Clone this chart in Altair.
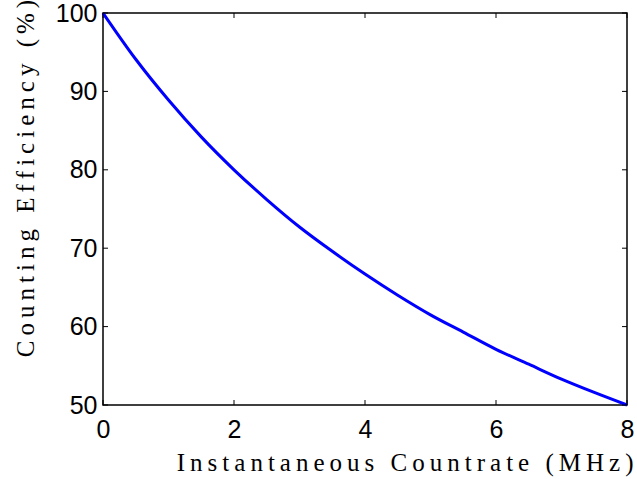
import altair as alt
import pandas as pd

# Data
rate_mhz = [0.0, 0.5, 1.0, 1.5, 2.0, 2.5, 3.0, 3.5, 4.0, 4.5, 5.0, 5.5, 6.0, 6.5, 7.0, 7.5, 8.0]
efficiency_pct = [100.0, 94.1, 88.9, 84.2, 80.0, 76.2, 72.7, 69.6, 66.7, 64.0, 61.5, 59.3, 57.1, 55.2, 53.3, 51.6, 50.0]
x_ticks = [0, 2, 4, 6, 8]
y_ticks = [50, 60, 70, 80, 90, 100]
x_title = "Instantaneous Countrate (MHz)"
y_title = "Counting Efficiency (%)"

THIN = "\u2009"


def spaced(s):
    return THIN.join(s)


W, H = 524, 392
TICK = 5

curve = pd.DataFrame({"rate": rate_mhz, "eff": efficiency_pct})
xt = pd.DataFrame({"rate": x_ticks})
yt = pd.DataFrame({"eff": y_ticks})

xscale = alt.Scale(domain=[0, 8], nice=False, zero=False)
yscale = alt.Scale(domain=[50, 100], nice=False, zero=False)

xaxis = alt.Axis(values=x_ticks, title=spaced(x_title), grid=False, domain=False,
                 ticks=False, tickSize=0, labelPadding=12, labelFontSize=25,
                 labelFont="Liberation Sans", labelColor="#000000",
                 titleFont="Liberation Serif", titleFontSize=25, titleFontWeight="normal",
                 titleColor="#000000", titleAlign="right", titleBaseline="alphabetic",
                 titleX=530, titleY=65, labelFlush=False)
yaxis = alt.Axis(values=y_ticks, title=spaced(y_title), grid=False, domain=False,
                 ticks=False, tickSize=0, labelPadding=6, labelFontSize=25,
                 labelFont="Liberation Sans", labelColor="#000000",
                 titleFont="Liberation Serif", titleFontSize=25, titleFontWeight="normal",
                 titleColor="#000000", titleAlign="center", titleBaseline="alphabetic",
                 titleAngle=270, titleX=-70, titleY=165, labelFlush=False)

line = alt.Chart(curve).mark_line(color="#0000ff", strokeWidth=3, interpolate="monotone").encode(
    x=alt.X("rate:Q", scale=xscale, axis=xaxis),
    y=alt.Y("eff:Q", scale=yscale, axis=yaxis),
)

bottom_ticks = alt.Chart(xt).mark_rule(color="black", strokeWidth=1).encode(
    x=alt.X("rate:Q", scale=xscale, axis=xaxis), y=alt.value(H), y2=alt.value(H - TICK))
top_ticks = alt.Chart(xt).mark_rule(color="black", strokeWidth=1).encode(
    x=alt.X("rate:Q", scale=xscale, axis=xaxis), y=alt.value(0), y2=alt.value(TICK))
left_ticks = alt.Chart(yt).mark_rule(color="black", strokeWidth=1).encode(
    y=alt.Y("eff:Q", scale=yscale, axis=yaxis), x=alt.value(0), x2=alt.value(TICK))
right_ticks = alt.Chart(yt).mark_rule(color="black", strokeWidth=1).encode(
    y=alt.Y("eff:Q", scale=yscale, axis=yaxis), x=alt.value(W), x2=alt.value(W - TICK))

chart = alt.layer(line, bottom_ticks, top_ticks, left_ticks, right_ticks).properties(
    width=W, height=H,
    autosize=alt.AutoSizeParams(type="none"),
    padding={"left": 103, "top": 13, "right": 10, "bottom": 74},
    background="white",
).configure_view(stroke="black", strokeWidth=1.5)

chart.save("out.html", embed_options={"renderer": "svg", "actions": False})
